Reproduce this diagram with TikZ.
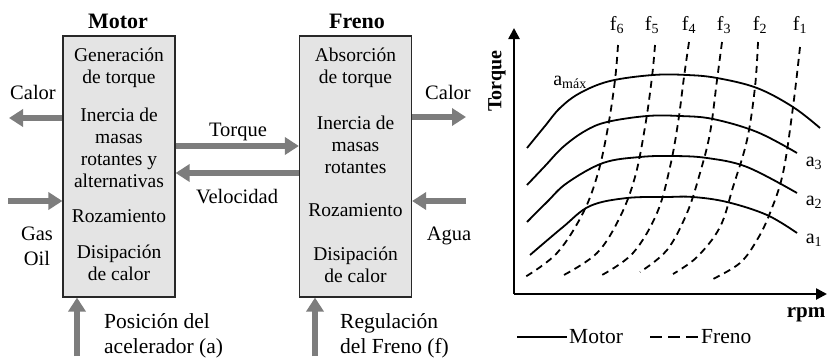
\documentclass[tikz,border=0pt]{standalone}
\usepackage{fontspec}
\setmainfont{Liberation Serif}
\usetikzlibrary{arrows.meta}
\definecolor{arrgray}{RGB}{125,125,125}
\definecolor{boxfill}{RGB}{228,228,228}
\definecolor{boxline}{RGB}{40,40,40}
\begin{document}
\begin{tikzpicture}[x=1pt,y=-1pt,
 txt/.style={font=\fontsize{19.5}{22}\selectfont, align=center, inner sep=0pt},
 otxt/.style={font=\fontsize{20.5}{23}\selectfont, align=center, inner sep=0pt},
 ltxt/.style={font=\fontsize{21.5}{25}\selectfont, align=left, inner sep=0pt, anchor=west},
 ttl/.style={font=\fontsize{22}{24}\selectfont\bfseries, inner sep=0pt},
 blk/.style={draw=boxline, fill=boxfill, line width=1.2pt, minimum width=112pt, minimum height=261pt, inner sep=0pt},
 flow/.style={draw=arrgray, line width=6pt, -{Triangle[length=14pt,width=17pt]}},
 ax/.style={line width=2.5pt, -{Triangle[length=11pt,width=11pt]}},
 mc/.style={line width=1.8pt},
 fc/.style={line width=1.8pt, dash pattern=on 7pt off 5pt},
 lfc/.style={line width=2.2pt, dash pattern=on 12pt off 6pt},
 ctxt/.style={font=\fontsize{20}{22}\selectfont, inner sep=0pt},
 ]
\useasboundingbox (0,0) rectangle (829,362);

% blocks
\node[blk] (motor) at (119,166.5) {};
\node[blk] (freno) at (355.5,166.5) {};
\node[ttl] (tm) at (118,21) {Motor};
\node[ttl] (tf) at (357,21) {Freno};

% motor text
\node[txt] (m1) at (119,68) {Generación\\de torque};
\node[txt] (m2) at (119,148) {Inercia de\\masas\\rotantes y\\alternativas};
\node[txt] (m3) at (119,216) {Rozamiento};
\node[txt] (m4) at (119,263) {Disipación\\de calor};
% freno text
\node[txt] (f1t) at (355.5,68) {Absorción\\de torque};
\node[txt] (f2t) at (355.5,145) {Inercia de\\masas\\rotantes};
\node[txt] (f3t) at (355.5,210) {Rozamiento};
\node[txt] (f4t) at (355.5,265) {Disipación\\de calor};

% flow arrows
\coordinate (calL) at (9,118);
\coordinate (gasL) at (8,201);
\coordinate (posB) at (77,356);
\coordinate (calR) at (466,117);
\coordinate (aguaR) at (466,201);
\coordinate (regB) at (315,356);
\draw[flow] (motor.west |- calL) -- (calL);
\draw[flow] (gasL) -- (motor.west |- gasL);
\draw[flow] (posB) -- (posB |- motor.south);
\draw[flow] (motor.east |- 0,146) -- (freno.west |- 0,146);
\draw[flow] (freno.west |- 0,173) -- (motor.east |- 0,173);
\draw[flow] (freno.east |- calR) -- (calR);
\draw[flow] (aguaR) -- (freno.east |- aguaR);
\draw[flow] (regB) -- (regB |- freno.south);

% labels
\node[otxt] (lcal) at (33,92) {Calor};
\node[otxt,font=\fontsize{20.5}{25}\selectfont] (lgas) at (37,246) {Gas\\Oil};
\node[ltxt] (lpos) at (104,336) {Posición del\\acelerador (a)};
\node[otxt] (ltor) at (238,132) {Torque};
\node[otxt] (lvel) at (237,197) {Velocidad};
\node[otxt] (lcalr) at (448,92) {Calor};
\node[otxt] (lagua) at (449,236) {Agua};
\node[ltxt] (lreg) at (340,336) {Regulación\\del Freno (f)};

% chart axes
\coordinate (O) at (514,294);
\coordinate (ytop) at (514,28);
\coordinate (xend) at (827,294);
\draw[ax] (O) -- (ytop);
\draw[ax] (O) -- (xend);
\node[ctxt,font=\fontsize{20}{22}\selectfont\bfseries,rotate=90] (lyt) at (497,81) {Torque};
\node[ctxt,font=\fontsize{21}{22}\selectfont\bfseries] (lxr) at (806,315) {rpm};

% motor curves
\draw[mc] plot[smooth,tension=0.6] coordinates {(527,148) (545,126) (560,108) (580,93) (610,81) (653,75) (687,75) (717,78) (757,88) (793,107) (820,128)};
\draw[mc] plot[smooth,tension=0.6] coordinates {(527,185) (545,166) (563,147) (585,131) (607,122) (647,116) (680,116) (713,119) (757,132) (797,153)};
\draw[mc] plot[smooth,tension=0.6] coordinates {(527,222) (547,202) (567,183) (603,163) (640,157) (673,156) (707,158) (747,167) (797,193)};
\draw[mc] plot[smooth,tension=0.6] coordinates {(530,255) (563,227) (590,206) (627,198) (667,197) (693,197) (727,202) (767,215) (797,233)};

% brake curves
\draw[fc] plot[smooth,tension=0.6] coordinates {(800,47) (793,107) (783,173) (770,213) (757,240) (740,263) (713,279)};
\draw[fc] plot[smooth,tension=0.6] coordinates {(758,42) (755,87) (747,140) (733,187) (720,227) (697,257) (673,274)};
\draw[fc] plot[smooth,tension=0.6] coordinates {(722,42) (717,80) (710,133) (700,173) (687,213) (667,250) (640,272)};
\draw[fc] plot[smooth,tension=0.6] coordinates {(689,42) (684,77) (678,123) (670,167) (657,213) (633,253) (602,275)};
\draw[fc] plot[smooth,tension=0.6] coordinates {(655,45) (652,77) (645,127) (635,177) (620,217) (597,253) (562,276)};
\draw[fc] plot[smooth,tension=0.6] coordinates {(618,45) (615,80) (608,127) (598,173) (583,213) (557,253) (525,277)};

% curve labels
\node[ctxt] (la4) at (570,82) {a\textsubscript{máx}};
\node[ctxt] (la3) at (814,163) {a\textsubscript{3}};
\node[ctxt] (la2) at (814,202) {a\textsubscript{2}};
\node[ctxt] (la1) at (814,240) {a\textsubscript{1}};
\node[ctxt] (lf6) at (617,25) {f\textsubscript{6}};
\node[ctxt] (lf5) at (652,25) {f\textsubscript{5}};
\node[ctxt] (lf4) at (689,25) {f\textsubscript{4}};
\node[ctxt] (lf3) at (724,25) {f\textsubscript{3}};
\node[ctxt] (lf2) at (760,25) {f\textsubscript{2}};
\node[ctxt] (lf1) at (800,25) {f\textsubscript{1}};

% legend
\coordinate (lm1) at (517,337);
\coordinate (lm2) at (567,337);
\coordinate (lf1a) at (650,337);
\coordinate (lf2a) at (700,337);
\draw[mc,line width=2.2pt] (lm1) -- (lm2);
\draw[lfc] (lf1a) -- (lf2a);
\node[ctxt,font=\fontsize{21.5}{24}\selectfont,anchor=west] (lgm) at (569,337) {Motor};
\node[ctxt,font=\fontsize{21.5}{24}\selectfont,anchor=west] (lgf) at (701,337) {Freno};
\end{tikzpicture}
\end{document}
